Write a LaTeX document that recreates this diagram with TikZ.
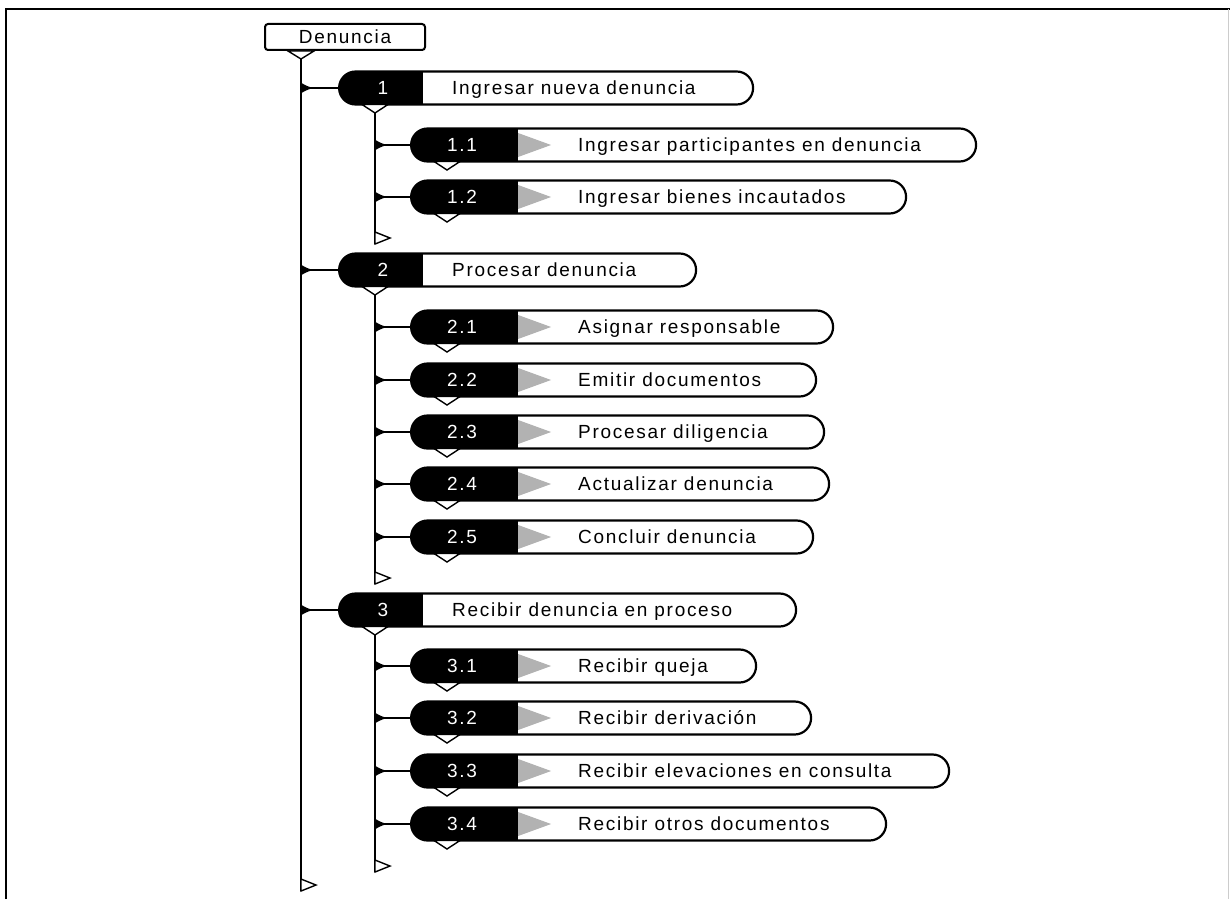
\documentclass[tikz,border=0pt]{standalone}
\usepackage{fontspec}
\setmainfont[LetterSpace=9]{Liberation Sans}
\usetikzlibrary{positioning,arrows.meta,shapes.misc}

\begin{document}
\begin{tikzpicture}[x=1pt, y=-1pt, font=\fontsize{19}{21}\selectfont,
    frame/.style={line width=2.4pt},
    rootbox/.style={draw, line width=2pt, rounded corners=3pt, minimum width=160pt, minimum height=26pt, inner sep=0pt},
    taskbox/.style={rounded rectangle, draw, line width=2.2pt, minimum height=33pt, anchor=west, inner sep=0pt,
      path picture={\fill (path picture bounding box.south west) rectangle ([xshift=84pt]path picture bounding box.north west);}},
    subbox/.style={rounded rectangle, draw, line width=2.2pt, minimum height=33pt, anchor=west, inner sep=0pt,
      path picture={\fill (path picture bounding box.south west) rectangle ([xshift=107pt]path picture bounding box.north west);
        \fill[gray!60] ([xshift=107pt,yshift=12pt]path picture bounding box.west) -- ([xshift=140pt]path picture bounding box.west)
          -- ([xshift=107pt,yshift=-12pt]path picture bounding box.west) -- cycle;}},
    numtxt/.style={text=white, inner sep=0pt, text height=14pt, text depth=1pt},
    lbl/.style={anchor=west, inner sep=0pt, text height=14pt, text depth=1pt},
    link/.style={line width=1.8pt, {Latex[reversed,length=12pt,width=11pt]}-},
    trunk/.style={line width=1.8pt},
    junc/.style={draw, fill=white, line width=1.4pt},
    flag/.style={draw, fill=white, line width=1.4pt}]
  \useasboundingbox (0,0) rectangle (1230,899);
  \draw[frame] (6,899) -- (6,9) -- (1230,9);
  \draw[gray!40] (1228,9) -- (1228,899);

  \node[rootbox] (root) at (345,37) {Denuncia};
  \draw[junc] ([xshift=24pt]root.south west) -- ([xshift=50pt]root.south west)
    -- ([xshift=37pt,yshift=-8pt]root.south west) coordinate (trk) -- cycle;
  \coordinate (e0) at (trk |- 0,891);
  \draw[trunk] (trk) -- (e0);
  \draw[flag] (e0) -- ++(15,-6) -- ++(-15,-6) -- cycle;

  \foreach \n/\y/\xr/\e/\txt in {1/88/752/244/Ingresar nueva denuncia,
      2/270/695/584/Procesar denuncia,
      3/610/795/872/Recibir denuncia en proceso}{
    \node[taskbox, minimum width={\xr-338}] (b\n) at (338,\y) {};
    \node[numtxt] (n\n) at ([xshift=45pt]b\n.west) {\n};
    \node[lbl] (t\n) at ([xshift=114pt]b\n.west) {\txt};
    \draw[link] (b\n.west -| trk) -- (b\n.west);
    \draw[junc] ([xshift=24pt,yshift=-16.5pt]b\n.west) -- ([xshift=50pt,yshift=-16.5pt]b\n.west)
      -- ([xshift=37pt,yshift=-25pt]b\n.west) coordinate (s\n) -- cycle;
    \coordinate (e\n) at (s\n |- 0,\e);
    \draw[trunk] (s\n) -- (e\n);
    \draw[flag] (e\n) -- ++(15,-6) -- ++(-15,-6) -- cycle;
  }

  \foreach \p/\n/\num/\y/\xr/\txt in {1/11/1.1/145/975/Ingresar participantes en denuncia,
      1/12/1.2/197/905/Ingresar bienes incautados,
      2/21/2.1/327/832/Asignar responsable,
      2/22/2.2/380/815/Emitir documentos,
      2/23/2.3/432/823/Procesar diligencia,
      2/24/2.4/484/828/Actualizar denuncia,
      2/25/2.5/537/812/Concluir denuncia,
      3/31/3.1/666/755/Recibir queja,
      3/32/3.2/718/810/Recibir derivación,
      3/33/3.3/771/948/Recibir elevaciones en consulta,
      3/34/3.4/824/885/Recibir otros documentos}{
    \node[subbox, minimum width={\xr-410}] (b\n) at (410,\y) {};
    \node[numtxt] (n\n) at ([xshift=52pt]b\n.west) {\num};
    \node[lbl] (t\n) at ([xshift=168pt]b\n.west) {\txt};
    \draw[link] (b\n.west -| s\p) -- (b\n.west);
    \draw[junc] ([xshift=24pt,yshift=-16.5pt]b\n.west) -- ([xshift=50pt,yshift=-16.5pt]b\n.west)
      -- ([xshift=37pt,yshift=-25pt]b\n.west) -- cycle;
  }
\end{tikzpicture}
\end{document}
